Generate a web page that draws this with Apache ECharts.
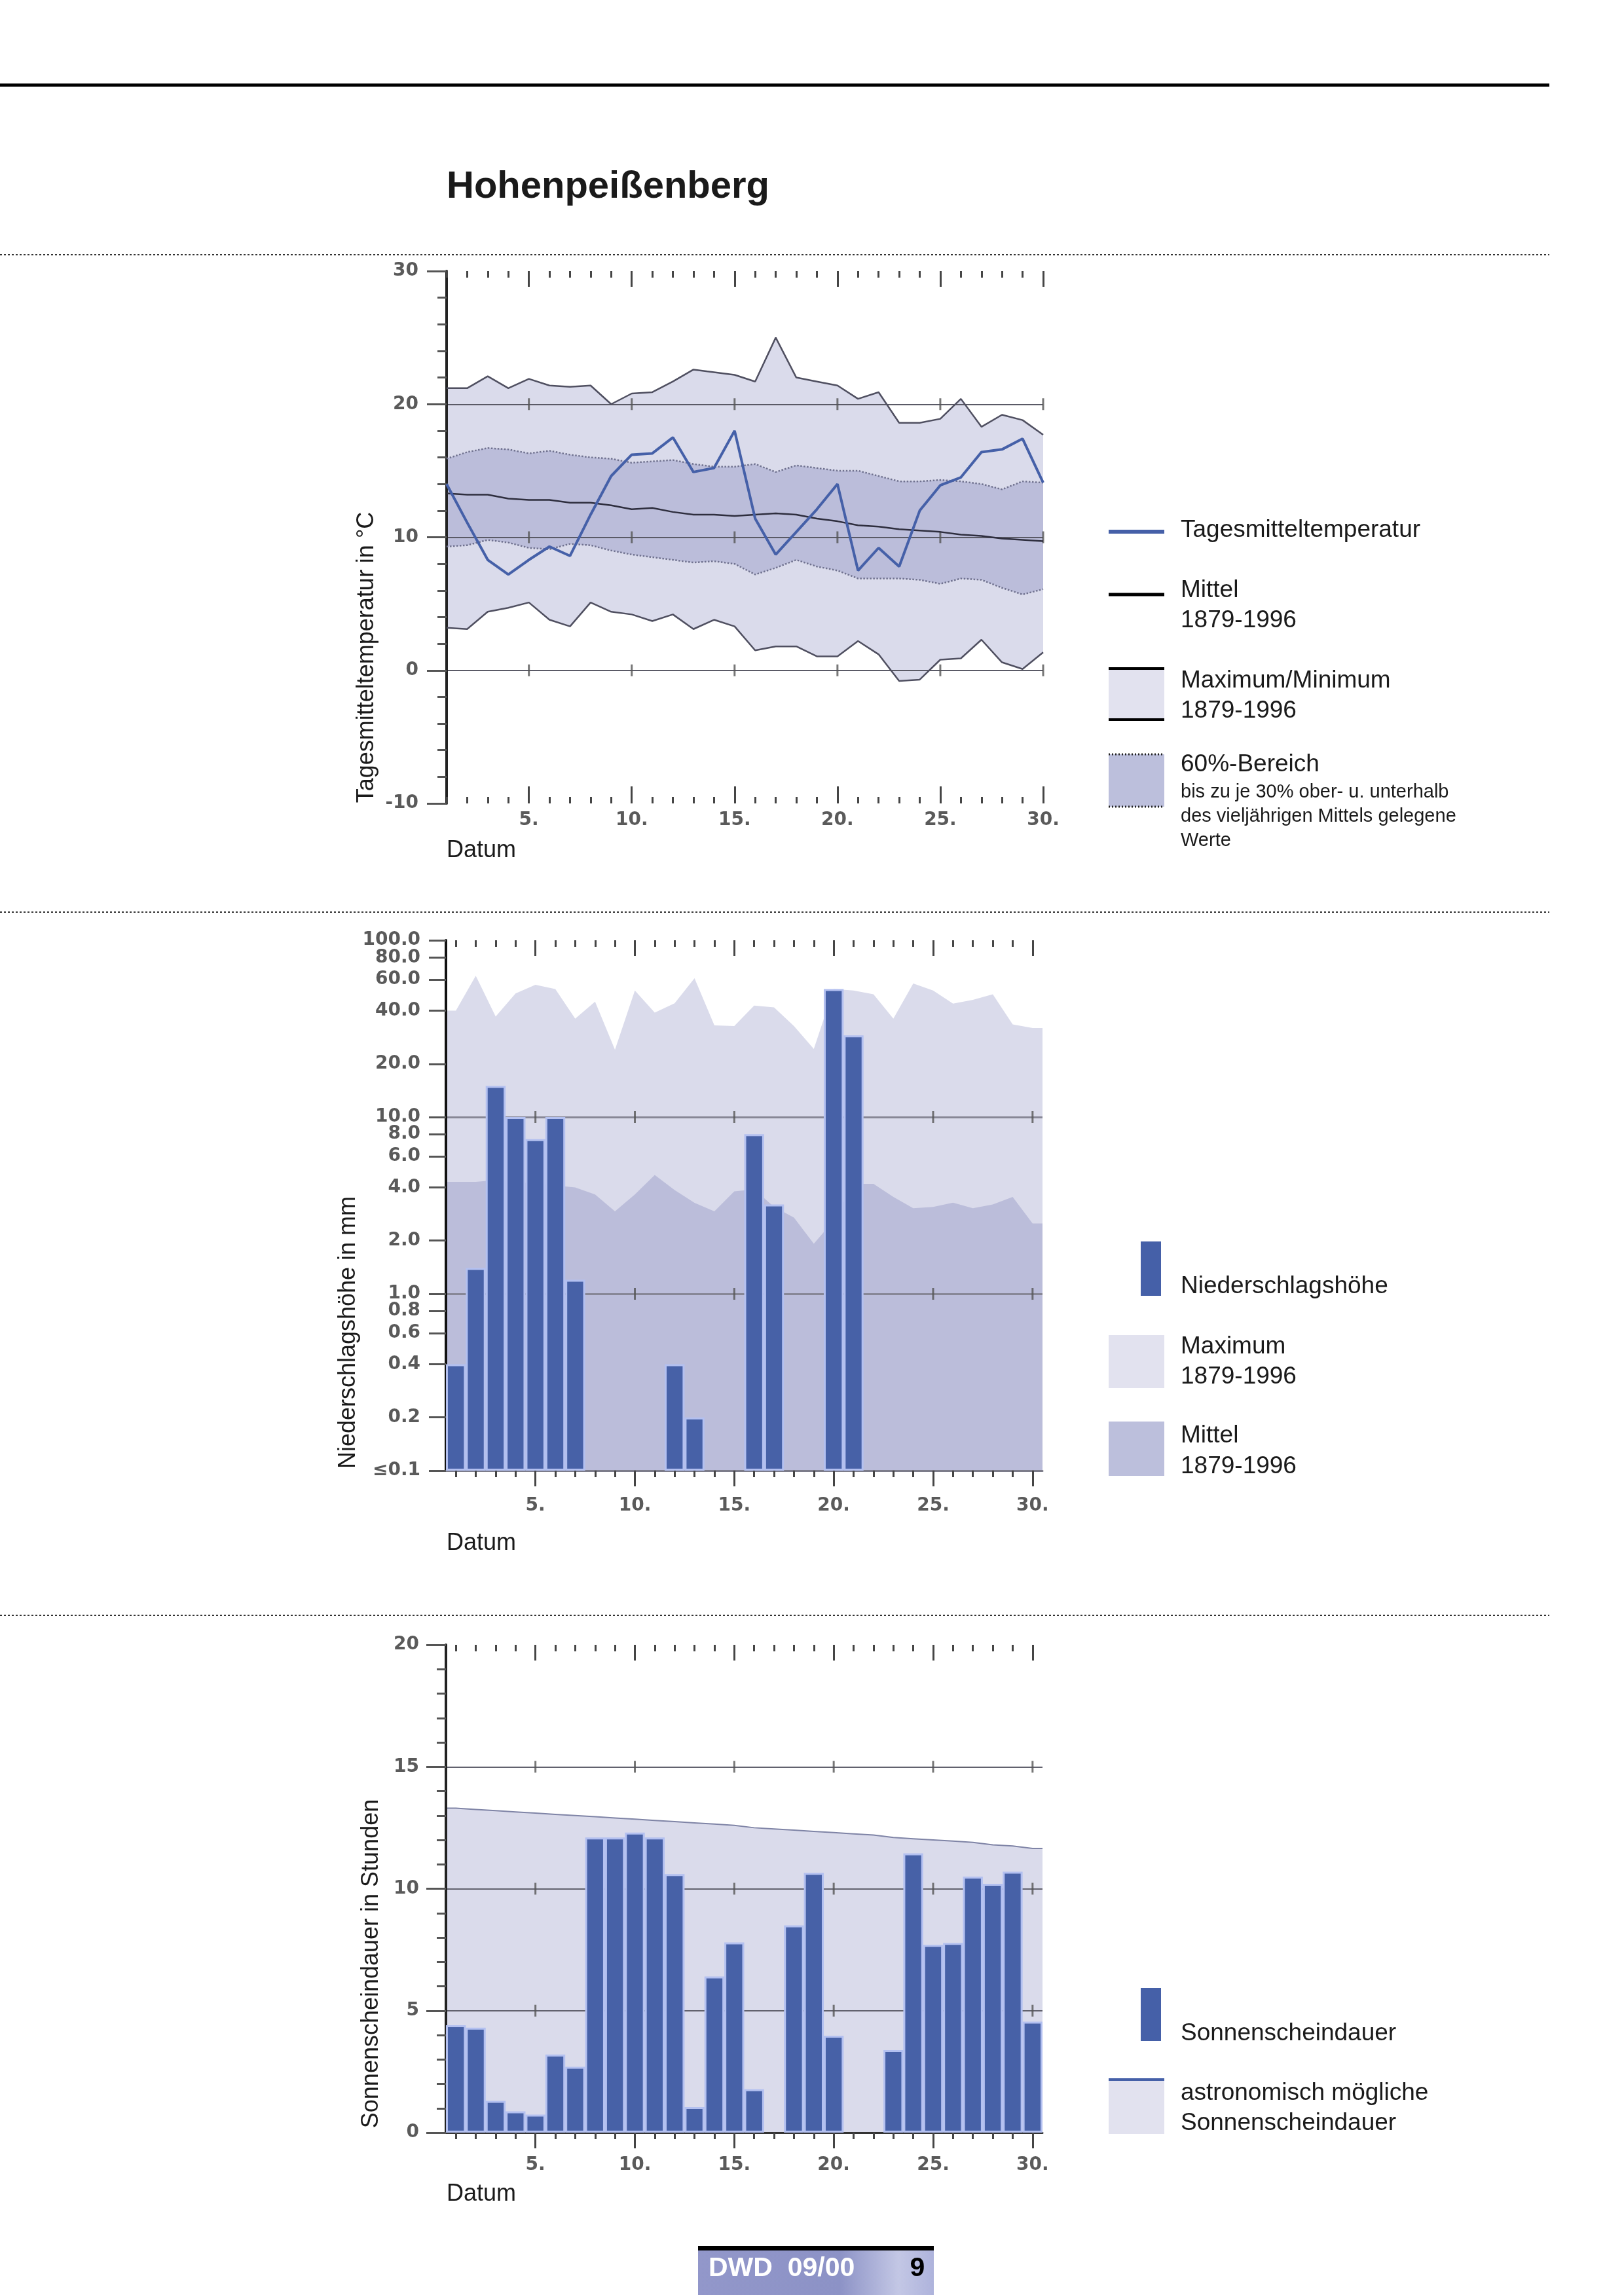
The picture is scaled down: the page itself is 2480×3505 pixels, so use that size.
<!DOCTYPE html>
<html>
<head>
<meta charset="utf-8">
<script src="https://cdn.jsdelivr.net/npm/echarts@6/dist/echarts.min.js"></script>
<style>html,body{margin:0;padding:0;background:#fff}#c{width:2480px;height:3505px}</style>
</head>
<body>
<div id="c"></div>
<script>
// ---------- data ----------
const days = Array.from({length: 30}, (_, i) => i + 1);
const majorDays = [5, 10, 15, 20, 25, 30];

// Temperature (°C)
const tempMax  = [21.2, 21.2, 22.1, 21.2, 21.9, 21.4, 21.3, 21.4, 20.0, 20.8, 20.9, 21.7, 22.6, 22.4, 22.2, 21.7, 25.0, 22.0, 21.7, 21.4, 20.4, 20.9, 18.6, 18.6, 18.9, 20.4, 18.3, 19.2, 18.8, 17.7];
const tempMin  = [3.2, 3.1, 4.4, 4.7, 5.1, 3.8, 3.3, 5.1, 4.4, 4.2, 3.7, 4.2, 3.1, 3.8, 3.3, 1.5, 1.8, 1.8, 1.05, 1.05, 2.2, 1.2, -0.8, -0.7, 0.8, 0.9, 2.3, 0.6, 0.1, 1.35];
const temp60Hi = [15.9, 16.4, 16.7, 16.6, 16.3, 16.5, 16.2, 16.0, 15.9, 15.6, 15.7, 15.8, 15.5, 15.3, 15.3, 15.5, 14.9, 15.4, 15.2, 15.0, 15.0, 14.6, 14.2, 14.2, 14.3, 14.2, 14.0, 13.6, 14.2, 14.1];
const temp60Lo = [9.3, 9.4, 9.8, 9.6, 9.2, 9.1, 9.5, 9.4, 9.0, 8.7, 8.5, 8.3, 8.1, 8.2, 8.0, 7.2, 7.7, 8.3, 7.8, 7.5, 6.9, 6.9, 6.9, 6.8, 6.5, 6.9, 6.8, 6.2, 5.7, 6.1];
const tempMean = [13.3, 13.2, 13.2, 12.9, 12.8, 12.8, 12.6, 12.6, 12.4, 12.1, 12.2, 11.9, 11.7, 11.7, 11.6, 11.7, 11.8, 11.7, 11.4, 11.2, 10.9, 10.8, 10.6, 10.5, 10.4, 10.2, 10.1, 9.9, 9.8, 9.7];
const tempDay  = [14.0, 11.1, 8.3, 7.2, 8.3, 9.3, 8.6, 11.7, 14.6, 16.2, 16.3, 17.5, 14.9, 15.2, 18.0, 11.4, 8.7, 10.4, 12.1, 14.0, 7.5, 9.2, 7.8, 12.0, 13.9, 14.5, 16.4, 16.6, 17.4, 14.1];
const tempTicks = [-10, 0, 10, 20, 30];
const tempGridVals = [0, 10, 20];

// Precipitation (mm), 0 = no precipitation
const precipDay  = [0.4, 1.4, 15, 10, 7.5, 10, 1.2, 0, 0, 0, 0, 0.4, 0.2, 0, 0, 8, 3.2, 0, 0, 53, 29, 0, 0, 0, 0, 0, 0, 0, 0, 0];
const precipMax  = [40, 63, 37, 50, 56, 53, 36, 45, 24, 52, 39, 44, 61, 33, 32.7, 42.7, 41.7, 32.7, 24.3, 53, 52, 49.5, 36, 57, 52, 43.8, 46, 49.5, 33.4, 31.9];
const precipMean = [4.3, 4.3, 4.4, 4.3, 4.2, 4.1, 4.0, 3.65, 2.93, 3.65, 4.7, 3.86, 3.27, 2.93, 3.8, 3.9, 3.1, 2.7, 1.92, 2.6, 4.19, 4.19, 3.53, 3.05, 3.1, 3.28, 3.05, 3.2, 3.53, 2.5];
const precipLabels = [100, 80, 60, 40, 20, 10, 8, 6, 4, 2, 1, 0.8, 0.6, 0.4, 0.2, 0.1];
const precipGridVals = [1, 10];

// Sunshine (hours)
const sunHours = [4.4, 4.3, 1.3, 0.87, 0.74, 3.2, 2.7, 12.1, 12.1, 12.3, 12.1, 10.6, 1.05, 6.4, 7.8, 1.78, 0, 8.5, 10.65, 3.97, 0, 0, 3.38, 11.45, 7.7, 7.78, 10.5, 10.2, 10.7, 4.55];
const sunAstro = [13.3, 13.25, 13.2, 13.15, 13.1, 13.05, 13.0, 12.95, 12.9, 12.85, 12.8, 12.75, 12.7, 12.65, 12.6, 12.5, 12.45, 12.4, 12.35, 12.3, 12.25, 12.2, 12.1, 12.05, 12.0, 11.95, 11.9, 11.8, 11.75, 11.65];
const sunGridVals = [5, 10, 15];

// ---------- helpers ----------
const FONT = 'Liberation Sans, Arial, Helvetica, sans-serif';
const NUMFONT = 'DejaVu Sans, sans-serif';
const C_LIGHT = '#dadbeb', C_DARK = '#bbbdda', C_BLUE = '#4560a8', C_BAR = '#4761a7';

function padded(vals) {
  const pts = vals.map((v, i) => [days[i], v]);
  return [[days[0] - 0.5, vals[0]]].concat(pts, [[days[days.length - 1] + 0.5, vals[vals.length - 1]]]);
}
function plusMarks(yVals) {
  const out = [];
  majorDays.forEach(d => yVals.forEach(y => out.push([d, y])));
  return out;
}
const numLabel = {color: '#5a5a5a', fontSize: 28, fontWeight: 'bold', fontFamily: NUMFONT};
function tickX(grid, min, max, pos, vals, len, inside, label, line) {
  return {
    gridIndex: grid, type: 'value', min: min, max: max, position: pos, z: 1,
    axisLine: line ? {show: true, onZero: false, lineStyle: line} : {show: false, onZero: false},
    axisTick: {show: true, customValues: vals, inside: inside, length: len, lineStyle: {color: '#454545', width: 3}},
    axisLabel: label ? Object.assign({show: true, customValues: vals, formatter: v => v + '.', hideOverlap: false}, numLabel, label) : {show: false},
    splitLine: {show: false}, minorTick: {show: false}, axisPointer: {show: false}
  };
}
function catX(grid, gap) {
  return {gridIndex: grid, type: 'category', data: days, boundaryGap: gap, show: false, position: 'bottom',
          axisLine: {onZero: false}};
}
const plusStyle = {type: 'scatter', symbol: 'rect', symbolSize: [3, 18], itemStyle: {color: '#555'}, z: 1, silent: true};

// ---------- axes ----------
const xAxes = [
  // temperature grid 0
  catX(0, false),
  tickX(0, 1, 30, 'bottom', majorDays, 26, true, {margin: 12}),
  tickX(0, 1, 30, 'bottom', days, 10, true),
  tickX(0, 1, 30, 'top', majorDays, 24, true),
  tickX(0, 1, 30, 'top', days, 10, true),
  // precipitation grid 1
  catX(1, true),
  tickX(1, 0.5, 30.5, 'bottom', majorDays, 24, false, {margin: 40}, {color: '#7c7c8a', width: 3}),
  tickX(1, 0.5, 30.5, 'bottom', days, 10, false),
  tickX(1, 0.5, 30.5, 'top', majorDays, 24, true),
  tickX(1, 0.5, 30.5, 'top', days, 10, true),
  // sunshine grid 2
  catX(2, true),
  tickX(2, 0.5, 30.5, 'bottom', majorDays, 24, false, {margin: 36}, {color: '#333', width: 3}),
  tickX(2, 0.5, 30.5, 'bottom', days, 10, false),
  tickX(2, 0.5, 30.5, 'top', majorDays, 24, true),
  tickX(2, 0.5, 30.5, 'top', days, 10, true)
];

// precipitation labels split into two interleaved overlay axes so that close labels never hide each other
const logValsA = precipLabels.filter((v, i) => i % 2 === 0).map(Math.log10);
const logValsB = precipLabels.filter((v, i) => i % 2 === 1).map(Math.log10);
function precipLabelAxis(vals) {
  return {
    gridIndex: 1, type: 'value', min: -1.0005, max: 2.0005, position: 'left', z: 1,
    axisLine: {show: false, onZero: false},
    axisTick: {show: true, customValues: vals, length: 26, lineStyle: {color: '#555', width: 3}},
    axisLabel: Object.assign({margin: 39, customValues: vals, hideOverlap: false,
      formatter: v => { const x = Math.pow(10, v); return x < 0.15 ? '\u2264' + '0.1' : x.toFixed(1); }}, numLabel),
    splitLine: {show: false}
  };
}
const yAxes = [
  { // temperature
    gridIndex: 0, type: 'value', min: tempTicks[0], max: tempTicks[tempTicks.length - 1], interval: 10, position: 'left', z: 1,
    axisLine: {show: true, onZero: false, lineStyle: {color: '#222', width: 4}},
    axisTick: {show: true, length: 30, lineStyle: {color: '#555', width: 3}},
    minorTick: {show: true, splitNumber: 5, length: 14, lineStyle: {color: '#555', width: 3}},
    axisLabel: Object.assign({margin: 43}, numLabel),
    splitLine: {show: true, showMinLine: false, showMaxLine: false, lineStyle: {color: '#5a5a66', width: 2}}
  },
  { // precipitation (log)
    gridIndex: 1, type: 'log', logBase: 10, min: 0.1, max: 100, startValue: 0.1, position: 'left', z: 1,
    axisLine: {show: true, onZero: false, lineStyle: {color: '#111', width: 4}},
    axisTick: {show: false}, axisLabel: {show: false}, minorTick: {show: false},
    splitLine: {show: true, showMinLine: false, showMaxLine: false, lineStyle: {color: '#878796', width: 3}}
  },
  precipLabelAxis(logValsA),
  { // sunshine
    gridIndex: 2, type: 'value', min: 0, max: 20, interval: 5, position: 'left', z: 1,
    axisLine: {show: true, onZero: false, lineStyle: {color: '#222', width: 4}},
    axisTick: {show: true, length: 30, lineStyle: {color: '#555', width: 3}},
    minorTick: {show: true, splitNumber: 5, length: 14, lineStyle: {color: '#555', width: 3}},
    axisLabel: Object.assign({margin: 41}, numLabel),
    splitLine: {show: true, showMinLine: false, showMaxLine: false, lineStyle: {color: '#62626e', width: 2}}
  },
  precipLabelAxis(logValsB)
];

// ---------- series ----------
const bandLine = {type: 'line', xAxisIndex: 0, yAxisIndex: 0, symbol: 'none', lineStyle: {opacity: 0}, z: 0, silent: true, stackStrategy: 'all'};
const tLine = (data, color, width, type) => ({type: 'line', xAxisIndex: 0, yAxisIndex: 0, data: data, symbol: 'none', z: 2, silent: true,
  lineStyle: {color: color, width: width, type: type || 'solid'}});

const series = [
  Object.assign({}, bandLine, {data: tempMin, stack: 'mm'}),
  Object.assign({}, bandLine, {data: tempMax.map((v, i) => +(v - tempMin[i]).toFixed(3)), stack: 'mm', areaStyle: {color: C_LIGHT, opacity: 1}}),
  Object.assign({}, bandLine, {data: temp60Lo, stack: 'p60'}),
  Object.assign({}, bandLine, {data: temp60Hi.map((v, i) => +(v - temp60Lo[i]).toFixed(3)), stack: 'p60', areaStyle: {color: C_DARK, opacity: 1}}),
  tLine(tempMax, '#4f4f60', 2.5),
  tLine(tempMin, '#4f4f60', 2.5),
  tLine(temp60Hi, '#70728f', 2.5, 'dotted'),
  tLine(temp60Lo, '#70728f', 2.5, 'dotted'),
  tLine(tempMean, '#2e2e3e', 2.5),
  tLine(tempDay, C_BLUE, 4),
  Object.assign({}, plusStyle, {xAxisIndex: 1, yAxisIndex: 0, data: plusMarks(tempGridVals)}),

  // precipitation
  {type: 'line', xAxisIndex: 6, yAxisIndex: 1, data: padded(precipMax), symbol: 'none', z: 0, silent: true,
   lineStyle: {width: 0, opacity: 0}, areaStyle: {color: C_LIGHT, opacity: 1, origin: 0.1}},
  {type: 'line', xAxisIndex: 6, yAxisIndex: 1, data: padded(precipMean), symbol: 'none', z: 0, silent: true,
   lineStyle: {width: 0, opacity: 0}, areaStyle: {color: C_DARK, opacity: 1, origin: 0.1}},
  Object.assign({}, plusStyle, {xAxisIndex: 6, yAxisIndex: 1, data: plusMarks(precipGridVals)}),
  {type: 'bar', xAxisIndex: 5, yAxisIndex: 1, data: precipDay.map(v => v > 0 ? v : '-'), barCategoryGap: '0%', z: 2, silent: true,
   itemStyle: {color: C_BAR, borderColor: '#b3c0f0', borderWidth: 3}},

  // sunshine
  {type: 'line', xAxisIndex: 11, yAxisIndex: 3, data: padded(sunAstro), symbol: 'none', z: 0, silent: true,
   lineStyle: {width: 2, color: '#7f84a6'}, areaStyle: {color: C_LIGHT, opacity: 1, origin: 0}},
  Object.assign({}, plusStyle, {xAxisIndex: 11, yAxisIndex: 3, data: plusMarks(sunGridVals)}),
  {type: 'bar', xAxisIndex: 10, yAxisIndex: 3, data: sunHours.map(v => v > 0 ? v : '-'), barCategoryGap: '0%', z: 2, silent: true,
   itemStyle: {color: C_BAR, borderColor: '#b3c0f0', borderWidth: 3}}
];

// ---------- page graphics ----------
const txt = (t, x, y, size, opts) => Object.assign({type: 'text', x: x, y: y, silent: true,
  style: Object.assign({text: t, fill: '#1a1a1a', font: (opts && opts.weight ? opts.weight + ' ' : '') + size + 'px ' + FONT,
    textAlign: 'left', textVerticalAlign: 'middle'}, opts && opts.style)}, opts && opts.el);
const hline = (x1, x2, y, w, color, dash) => ({type: 'line', silent: true, shape: {x1: x1, y1: y, x2: x2, y2: y},
  style: {stroke: color, lineWidth: w, lineDash: dash || null}});
const rect = (x, y, w, h, fill) => ({type: 'rect', silent: true, shape: {x: x, y: y, width: w, height: h}, style: {fill: fill}});
const vtxt = (t, x, y) => ({type: 'text', x: x, y: y, rotation: Math.PI / 2, silent: true,
  style: {text: t, fill: '#1a1a1a', font: '36px ' + FONT, textAlign: 'center', textVerticalAlign: 'middle'}});

const graphics = [
  hline(0, 2366, 130, 5, '#000'),
  txt('Hohenpeißenberg', 682, 286, 58, {weight: 'bold'}),
  hline(0, 2366, 389, 2, '#333', [3, 3]),
  hline(0, 2366, 1393, 2, '#333', [3, 3]),
  hline(0, 2366, 2467, 2, '#333', [3, 3]),

  vtxt('Tagesmitteltemperatur in °C', 560, 1004),
  vtxt('Niederschlagshöhe in mm', 532, 2035),
  vtxt('Sonnenscheindauer in Stunden', 567, 2999),
  txt('Datum', 682, 1299, 36),
  txt('Datum', 682, 2357, 36),
  txt('Datum', 682, 3351, 36),

  // temperature legend
  hline(1693, 1778, 812, 6, C_BLUE),
  txt('Tagesmitteltemperatur', 1803, 810, 37),
  hline(1693, 1778, 908, 5, '#000'),
  txt('Mittel', 1803, 902, 37),
  txt('1879-1996', 1803, 948, 37),
  rect(1693, 1020, 85, 80, '#e2e2ef'),
  hline(1693, 1778, 1021, 4, '#000'),
  hline(1693, 1778, 1099, 4, '#000'),
  txt('Maximum/Minimum', 1803, 1040, 37),
  txt('1879-1996', 1803, 1086, 37),
  rect(1693, 1152, 85, 80, '#bcbfdc'),
  hline(1693, 1778, 1152, 3, '#222', [2, 3]),
  hline(1693, 1778, 1232, 3, '#222', [2, 3]),
  txt('60%-Bereich', 1803, 1168, 37),
  txt('bis zu je 30% ober- u. unterhalb', 1803, 1210, 29),
  txt('des vieljährigen Mittels gelegene', 1803, 1247, 29),
  txt('Werte', 1803, 1284, 29),

  // precipitation legend
  rect(1742, 1896, 31, 83, C_BLUE),
  txt('Niederschlagshöhe', 1803, 1965, 37),
  rect(1693, 2039, 85, 81, '#e2e2ef'),
  txt('Maximum', 1803, 2057, 37),
  txt('1879-1996', 1803, 2103, 37),
  rect(1693, 2171, 85, 83, '#bcbfdc'),
  txt('Mittel', 1803, 2193, 37),
  txt('1879-1996', 1803, 2240, 37),

  // sunshine legend
  rect(1742, 3036, 31, 81, C_BLUE),
  txt('Sonnenscheindauer', 1803, 3106, 37),
  rect(1693, 3175, 85, 84, '#e2e2ef'),
  hline(1693, 1778, 3176, 4, C_BLUE),
  txt('astronomisch mögliche', 1803, 3197, 37),
  txt('Sonnenscheindauer', 1803, 3243, 37),

  // footer
  {type: 'rect', silent: true, shape: {x: 1066, y: 3436, width: 360, height: 69},
   style: {fill: new echarts.graphic.LinearGradient(0, 0, 1, 0, [
     {offset: 0, color: '#9297ca'}, {offset: 0.6, color: '#8c92c6'}, {offset: 0.85, color: '#c3c7e5'}, {offset: 1, color: '#aeb3dc'}])}},
  rect(1066, 3430, 360, 7, '#000'),
  txt('DWD  09/00', 1082, 3465, 41, {weight: 'bold', style: {fill: '#fff'}}),
  txt('9', 1401, 3465, 41, {weight: 'bold', style: {fill: '#000', textAlign: 'center'}})
];

const option = {
  animation: false,
  backgroundColor: '#fff',
  grid: [
    {left: 682, top: 414, width: 911, height: 813, outerBoundsMode: 'none', containLabel: false},
    {left: 681, top: 1436, width: 911, height: 810, outerBoundsMode: 'none', containLabel: false},
    {left: 681, top: 2512, width: 911, height: 745, outerBoundsMode: 'none', containLabel: false}
  ],
  xAxis: xAxes,
  yAxis: yAxes,
  series: series,
  graphic: {elements: graphics}
};

const chart = echarts.init(document.getElementById('c'), null, {renderer: 'canvas', width: 2480, height: 3505});
chart.setOption(option);
</script>
</body>
</html>
